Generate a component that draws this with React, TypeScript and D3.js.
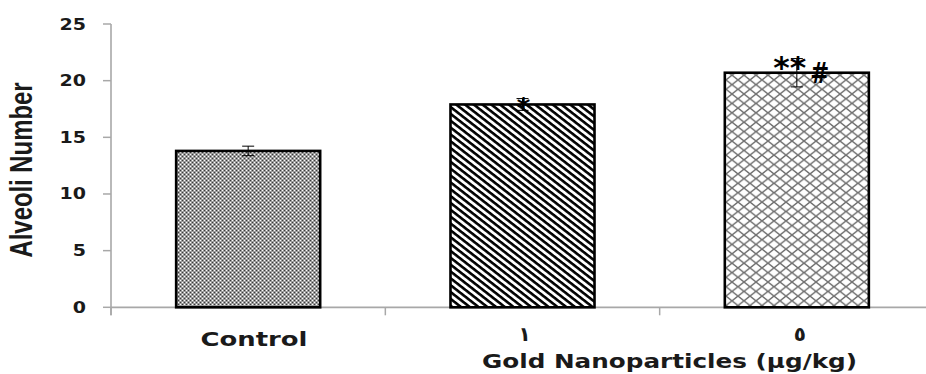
import React from 'react';
import * as d3 from 'd3';

const categories = ['Control', '١', '٥'];
const means = [13.8, 17.9, 20.7];
const errors = [0.42, 0.52, 1.25];
const marks = ['', '*', '**'];
const hashMarks = ['', '', '#'];
const yTicks = [0, 5, 10, 15, 20, 25];
const patternIds = ['pat-check', 'pat-stripe', 'pat-diamond'];

const W = 926, H = 374;
const X0 = 111, X1 = 934;
const Y0 = 307.3, Y1 = 24;
const TXT = '#1a1a1a';
const AXIS = '#a8a8a8';

export default function App() {
  const x = d3.scaleBand<string>().domain(categories).range([X0, X1])
    .paddingInner(0.475).paddingOuter(0.2375);
  const y = d3.scaleLinear().domain([0, 25]).range([Y0, Y1]);
  const step = x.step();
  const boundaries = d3.range(categories.length + 1).map(i => X0 + i * step);

  return (
    <svg width={W} height={H} style={{ position: 'absolute', left: 0, top: 0, background: '#fff' }}>
      <defs>
        <pattern id="pat-check" patternUnits="userSpaceOnUse" width={4} height={4}>
          <rect width={4} height={4} fill="#9c9c9c" />
          <rect x={0} y={0} width={1} height={1} fill="#fff" />
          <rect x={2} y={2} width={1} height={1} fill="#fff" />
          <rect x={0} y={2} width={1} height={1} fill="#3a3a3a" />
          <rect x={2} y={0} width={1} height={1} fill="#3a3a3a" />
        </pattern>
        <pattern id="pat-stripe" patternUnits="userSpaceOnUse" width={10} height={5.4}
          patternTransform="rotate(38)">
          <rect width={10} height={5.4} fill="#fff" />
          <rect width={10} height={2.6} fill="#000" />
        </pattern>
        <pattern id="pat-diamond" patternUnits="userSpaceOnUse" width={12} height={9.4}>
          <rect width={12} height={9.4} fill="#fff" />
          <path d="M0,0L12,9.4M12,0L0,9.4" stroke="#707070" strokeWidth={1.4} />
        </pattern>
      </defs>

      {/* axes */}
      <line x1={X0} x2={X0} y1={Y1} y2={Y0 + 8} stroke={AXIS} strokeWidth={1.6} />
      <line x1={X0} x2={W} y1={Y0} y2={Y0} stroke={AXIS} strokeWidth={1.8} />
      {yTicks.map(t => (
        <g key={t}>
          <line x1={X0 - 8} x2={X0} y1={y(t)} y2={y(t)} stroke={AXIS} strokeWidth={1.5} />
          <text transform={`translate(86,${y(t) + 5.5}) scale(1.27,1)`} textAnchor="end"
            fontFamily="DejaVu Sans" fontWeight="bold" fontSize={15} fill={TXT}>{t}</text>
        </g>
      ))}
      {boundaries.map((b, i) => (
        <line key={i} x1={b} x2={b} y1={Y0} y2={Y0 + 8} stroke={AXIS} strokeWidth={1.5} />
      ))}

      {/* bars */}
      {categories.map((c, i) => (
        <rect key={c} x={x(c)} y={y(means[i])} width={x.bandwidth()} height={Y0 - y(means[i])}
          fill={`url(#${patternIds[i]})`} stroke="#000" strokeWidth={2.6} />
      ))}

      {/* error bars */}
      {categories.map((c, i) => {
        const cx = (x(c) as number) + x.bandwidth() / 2;
        const top = y(means[i] + errors[i]), bot = y(means[i] - errors[i]);
        return (
          <g key={c} stroke="#000" strokeWidth={1}>
            <line x1={cx} x2={cx} y1={top} y2={bot} />
            <line x1={cx - 6} x2={cx + 6} y1={top} y2={top} />
            <line x1={cx - 6} x2={cx + 6} y1={bot} y2={bot} />
          </g>
        );
      })}

      {/* significance marks */}
      {categories.map((c, i) => {
        const cx = (x(c) as number) + x.bandwidth() / 2;
        return (
          <g key={c} fontFamily="DejaVu Sans" fontWeight="bold" fill="#000">
            {marks[i] === '*' && (
              <text x={cx + 1} y={y(means[i]) + 13} textAnchor="middle" fontSize={26}>*</text>
            )}
            {marks[i] === '**' && (
              <text x={cx - 7} y={y(means[i]) + 5} textAnchor="middle" fontSize={30}
                textLength={33} lengthAdjust="spacingAndGlyphs">**</text>
            )}
            {hashMarks[i] && (
              <text x={cx + 23} y={y(means[i]) + 10} textAnchor="middle" fontSize={29}
                textLength={19} lengthAdjust="spacingAndGlyphs">{hashMarks[i]}</text>
            )}
          </g>
        );
      })}

      {/* category labels */}
      <text x={254} y={345.5} textAnchor="middle" fontFamily="DejaVu Sans" fontWeight="bold"
        fontSize={20} fill={TXT} textLength={107} lengthAdjust="spacingAndGlyphs">{categories[0]}</text>
      {categories.slice(1).map((c, i) => (
        <text key={c} x={(x(c) as number) + x.bandwidth() / 2 + 2 + i} y={341} textAnchor="middle"
          fontFamily="DejaVu Sans" fontWeight="bold" fontSize={20} fill={TXT}>{c}</text>
      ))}
      <text x={669.5} y={368} textAnchor="middle" fontFamily="DejaVu Sans" fontWeight="bold"
        fontSize={20} fill={TXT} textLength={375} lengthAdjust="spacingAndGlyphs">
        Gold Nanoparticles (µg/kg)
      </text>

      {/* y axis title */}
      <text transform="translate(32,170) scale(1.28,1) rotate(-90)" textAnchor="middle"
        fontFamily="Liberation Sans" fontWeight="bold" fontSize={25} fill={TXT}
        textLength={175} lengthAdjust="spacingAndGlyphs">Alveoli Number</text>
    </svg>
  );
}
